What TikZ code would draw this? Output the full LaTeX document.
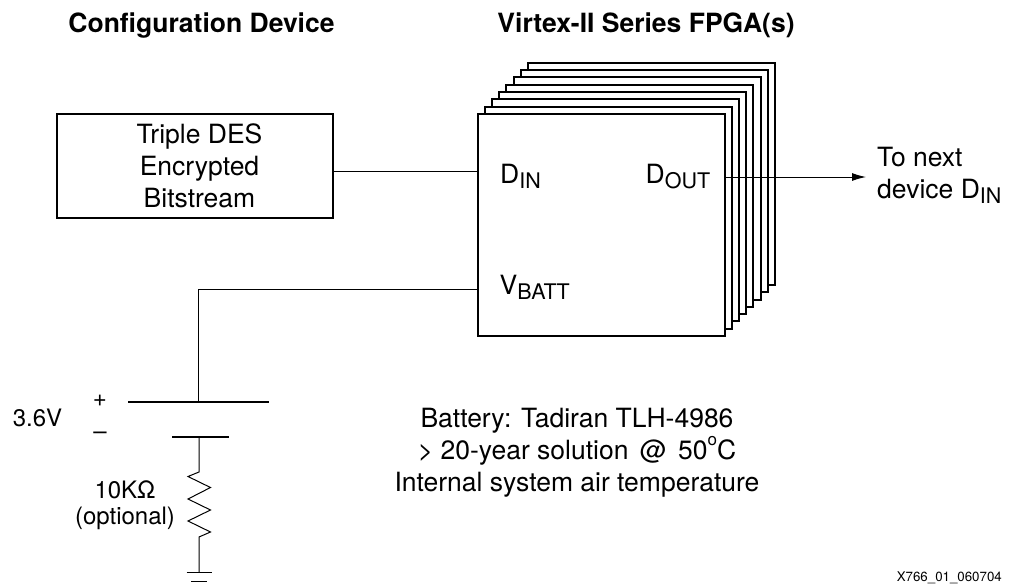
\documentclass[tikz,border=0pt]{standalone}
\usepackage{fontspec}
\setmainfont{TeX Gyre Heros}
\usetikzlibrary{arrows.meta}
\newcommand{\lowtext}[1]{\raisebox{-.19em}{\fontsize{21.5}{24}\selectfont #1}}
\tikzset{
  txt/.style={inner sep=0pt,font=\fontsize{26.5}{32}\selectfont,align=center},
  small/.style={inner sep=0pt,font=\fontsize{24}{25.5}\selectfont,align=center},
  head/.style={inner sep=0pt,anchor=base,font=\fontsize{26.5}{28}\selectfont\bfseries},
  sheet/.style={draw=black,line width=2pt,fill=white},
  wire/.style={draw=black,line width=1pt},
  plate/.style={draw=black,line width=2.2pt}
}
\begin{document}
\begin{tikzpicture}[x=1pt,y=-1pt]
  \useasboundingbox (0,0) rectangle (1015,586);
  \node [head] (confhead) at (201.5,33) {Configuration Device};
  \node [head] (fpgahead) at (646,33) {Virtex-II Series FPGA(s)};
  \foreach \k in {7,6,...,1}
    \draw [sheet] (478+7.1*\k,114-7.3*\k) rectangle (725+7.1*\k,336-7.3*\k);
  \node [sheet,minimum width=247pt,minimum height=222pt,inner sep=0pt] (fpga) at (601.5,225) {};
  \node [sheet,minimum width=276pt,minimum height=104pt,inner sep=0pt] (bits) at (195,166) {};
  \node [txt] (bitstxt) at (199.5,166) {Triple DES\\Encrypted\\Bitstream};
  \node [txt,anchor=base west] (din) at (500,183) {D\lowtext{IN}};
  \node [txt,anchor=base west] (dout) at (645.5,183) {D\lowtext{OUT}};
  \node [txt,anchor=base west] (vbatt) at (499.5,294) {V\lowtext{BATT}};
  \node [txt,align=left,anchor=west] (next) at (877,175) {To next\\device D\lowtext{IN}};
  \coordinate (din in) at (fpga.west |- 0,171);
  \coordinate (dout out) at (fpga.east |- 0,177);
  \coordinate (vbatt in) at (fpga.west |- 0,289);
  \coordinate (arrow end) at (866,177);
  \coordinate (corner) at (198.5,289);
  \coordinate (plus) at (198.5,402);
  \coordinate (minus) at (199,437);
  \coordinate (res top) at (199,472);
  \coordinate (res bot) at (199,537);
  \coordinate (gnd) at (199,572);
  \draw [wire] (bits.east |- din in) -- (din in);
  \draw [wire,-{Latex[length=14pt,width=8pt]}] (dout out) -- (arrow end);
  \draw [wire] (vbatt in) -- (corner) -- (plus);
  \draw [plate] (128,402) -- (269,402);
  \draw [plate] (172,437) -- (229,437);
  \draw [wire] (minus) -- (res top) -- (188,476.5) -- (210.5,487.5) -- (188,499) -- (210.5,510)
    -- (188,521) -- (210.5,532) -- (res bot) -- (gnd);
  \draw [wire] (186.5,572) -- (211.5,572);
  \draw [wire] (191,581) -- (207,581);
  \node [small] (volt) at (37.5,418) {3.6V};
  \node [small] (plussign) at (100,401) {+};
  \node [small] (minussign) at (100,436) {–};
  \node [small] (restxt) at (125,505) {10KΩ\\(optional)};
  \node [txt] (battery) at (577,453) {Battery: Tadiran TLH-4986\\> 20-year solution\hspace{.15em} @\hspace{.15em} 50\raisebox{.55em}{\fontsize{17}{20}\selectfont o}C\\Internal system air temperature};
  \node [inner sep=0pt,font=\fontsize{13.3}{15}\selectfont,anchor=east] (partno) at (1002,578) {X766\_01\_060704};
\end{tikzpicture}
\end{document}
